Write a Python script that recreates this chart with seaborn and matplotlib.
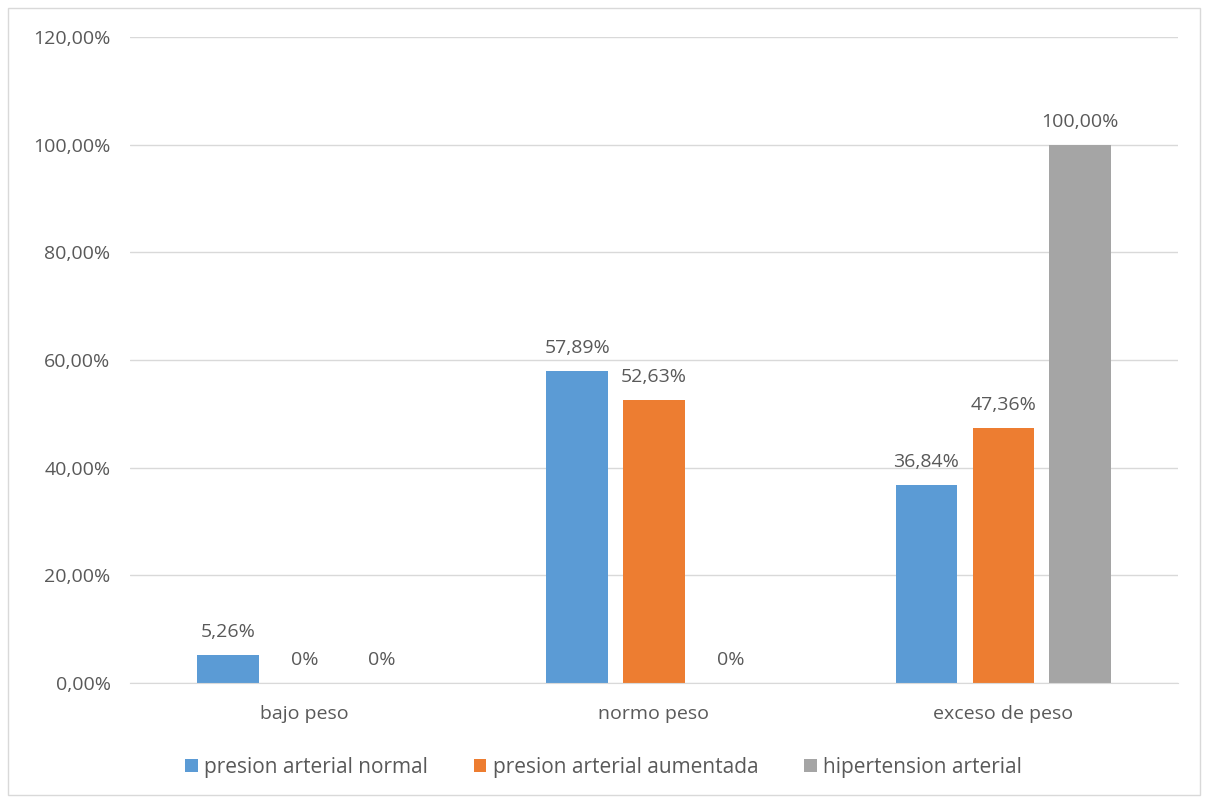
import matplotlib
matplotlib.use("Agg")
import matplotlib.pyplot as plt
from matplotlib.patches import Patch, Rectangle
import pandas as pd
import seaborn as sns

categories = ["bajo peso", "normo peso", "exceso de peso"]
series_names = ["presion arterial normal", "presion arterial aumentada", "hipertension arterial"]
normal_vals = [5.26, 57.89, 36.84]
aumentada_vals = [0.0, 52.63, 47.36]
hipertension_vals = [0.0, 0.0, 100.0]
y_ticks = [0, 20, 40, 60, 80, 100, 120]
colors = ["#5B9BD5", "#ED7D31", "#A5A5A5"]

rows = []
for name, vals in zip(series_names, [normal_vals, aumentada_vals, hipertension_vals]):
    for cat, v in zip(categories, vals):
        rows.append({"categoria": cat, "serie": name, "valor": v})
df = pd.DataFrame(rows)

sns.set_style("white")
plt.rcParams["font.family"] = ["Open Sans", "DejaVu Sans"]
text_color = "#595959"
fs = 14

fig = plt.figure(figsize=(12.07, 8.0), dpi=100)
ax = fig.add_axes([130 / 1207, 1 - 683 / 800, (1178 - 130) / 1207, (683 - 37) / 800])

sns.barplot(data=df, x="categoria", y="valor", hue="serie", order=categories,
            hue_order=series_names, palette=colors, width=0.66, gap=0.2,
            saturation=1, linewidth=0, legend=False, ax=ax)

def fmt(v):
    if v == 0:
        return "0%"
    return f"{v:.2f}".replace(".", ",") + "%"

for container in ax.containers:
    for bar in container:
        v = bar.get_height()
        ax.annotate(fmt(v), (bar.get_x() + bar.get_width() / 2, v),
                    xytext=(0, 10), textcoords="offset points",
                    ha="center", va="bottom", fontsize=fs, color=text_color)

ax.set_ylim(0, 120)
ax.set_yticks(y_ticks)
ax.set_yticklabels([f"{t:.2f}".replace(".", ",") + "%" for t in y_ticks])
ax.set_xlim(-0.5, 2.5)
ax.yaxis.grid(True, color="#d9d9d9", linewidth=1)
ax.set_axisbelow(True)
for s in ["top", "right", "left"]:
    ax.spines[s].set_visible(False)
ax.spines["bottom"].set_color("#d9d9d9")
ax.tick_params(axis="y", length=0, labelsize=fs, labelcolor=text_color, pad=14)
ax.tick_params(axis="x", length=0, labelsize=fs, labelcolor=text_color, pad=16)
ax.set_xlabel("")
ax.set_ylabel("")

handles = [Patch(facecolor=c, edgecolor="none") for c in colors]
fig.legend(handles, series_names, loc="center", bbox_to_anchor=(0.5, 1 - 767 / 800),
           ncol=3, frameon=False, fontsize=15, labelcolor=text_color,
           handlelength=0.6, handleheight=0.6, handletextpad=0.3, columnspacing=2.2)

fig.patches.append(Rectangle((8 / 1207, 5 / 800), 1192 / 1207, 787 / 800,
                             transform=fig.transFigure, fill=False,
                             edgecolor="#d9d9d9", linewidth=1))

fig.savefig("out.png", dpi=100)
